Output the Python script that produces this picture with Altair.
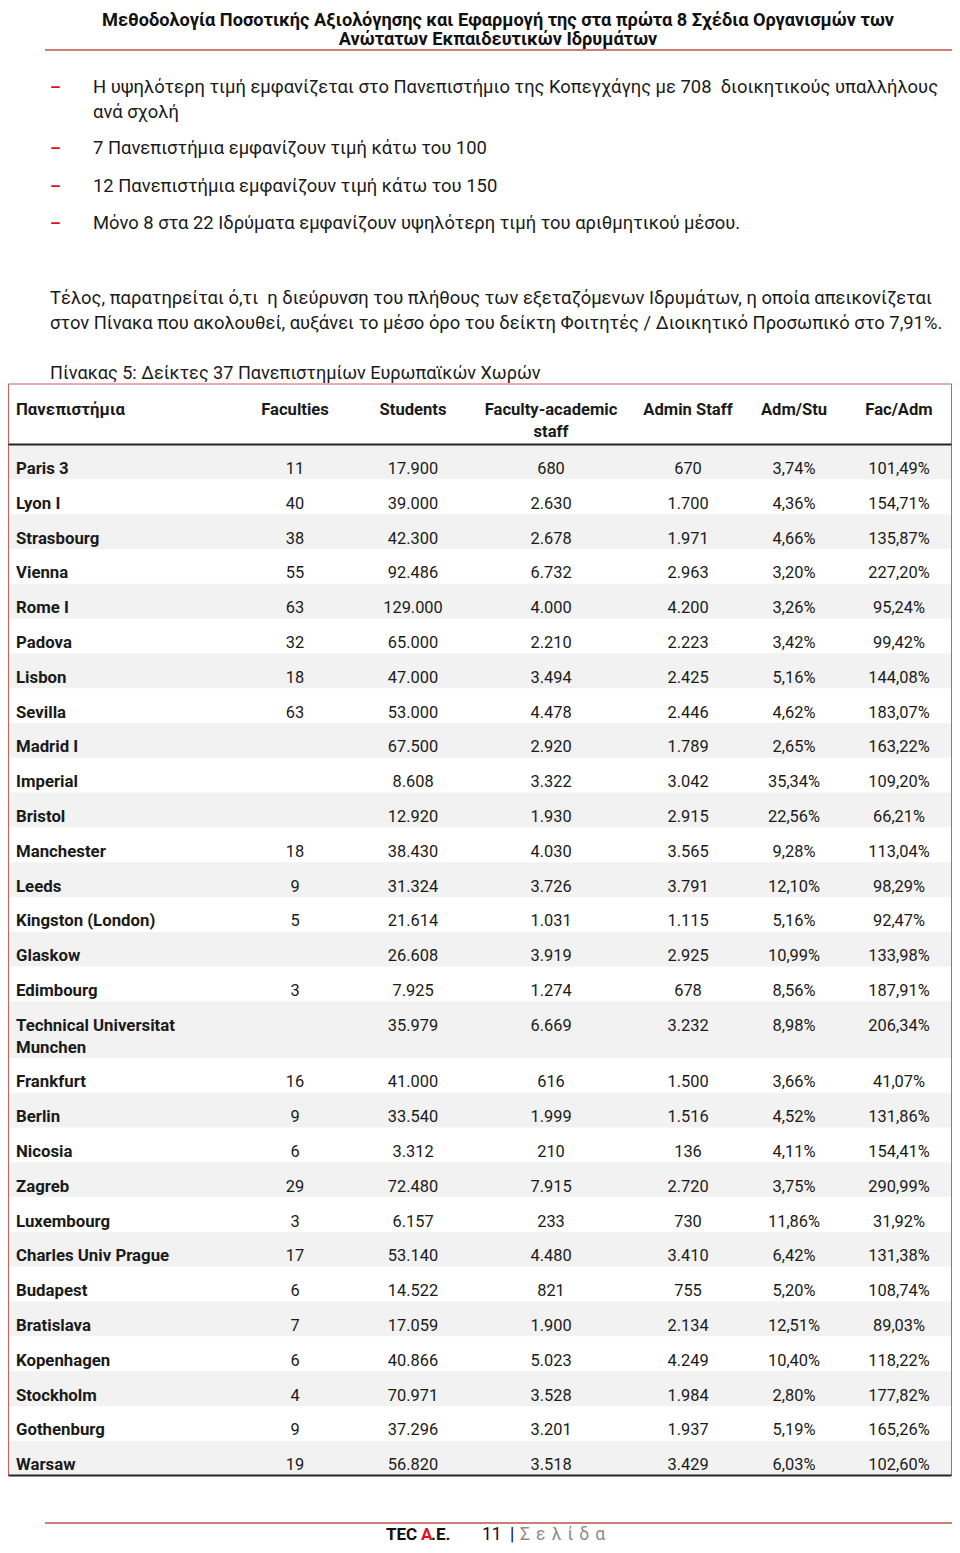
import altair as alt
import pandas as pd

FONT = "Roboto"
TXT = "#1a1a1a"
RED = "#c0504d"

# ---------------- data ----------------
universities = ["Paris 3", "Lyon I", "Strasbourg", "Vienna", "Rome I", "Padova", "Lisbon", "Sevilla",
                "Madrid I", "Imperial", "Bristol", "Manchester", "Leeds", "Kingston (London)", "Glaskow",
                "Edimbourg", "Technical Universitat\nMunchen", "Frankfurt", "Berlin", "Nicosia", "Zagreb",
                "Luxembourg", "Charles Univ Prague", "Budapest", "Bratislava", "Kopenhagen", "Stockholm",
                "Gothenburg", "Warsaw"]
faculties = [11, 40, 38, 55, 63, 32, 18, 63, None, None, None, 18, 9, 5, None, 3, None, 16, 9, 6, 29, 3,
             17, 6, 7, 6, 4, 9, 19]
students = [17900, 39000, 42300, 92486, 129000, 65000, 47000, 53000, 67500, 8608, 12920, 38430, 31324,
            21614, 26608, 7925, 35979, 41000, 33540, 3312, 72480, 6157, 53140, 14522, 17059, 40866, 70971,
            37296, 56820]
faculty_staff = [680, 2630, 2678, 6732, 4000, 2210, 3494, 4478, 2920, 3322, 1930, 4030, 3726, 1031, 3919,
                 1274, 6669, 616, 1999, 210, 7915, 233, 4480, 821, 1900, 5023, 3528, 3201, 3518]
admin_staff = [670, 1700, 1971, 2963, 4200, 2223, 2425, 2446, 1789, 3042, 2915, 3565, 3791, 1115, 2925,
               678, 3232, 1500, 1516, 136, 2720, 730, 3410, 755, 2134, 4249, 1984, 1937, 3429]
adm_stu = [3.74, 4.36, 4.66, 3.20, 3.26, 3.42, 5.16, 4.62, 2.65, 35.34, 22.56, 9.28, 12.10, 5.16, 10.99,
           8.56, 8.98, 3.66, 4.52, 4.11, 3.75, 11.86, 6.42, 5.20, 12.51, 10.40, 2.80, 5.19, 6.03]
fac_adm = [101.49, 154.71, 135.87, 227.20, 95.24, 99.42, 144.08, 183.07, 163.22, 109.20, 66.21, 113.04,
           98.29, 92.47, 133.98, 187.91, 206.34, 41.07, 131.86, 154.41, 290.99, 31.92, 131.38, 108.74,
           89.03, 118.22, 177.82, 165.26, 102.60]
columns = ["Πανεπιστήμια", "Faculties", "Students", "Faculty-academic\nstaff", "Admin Staff", "Adm/Stu",
           "Fac/Adm"]

title_text = ("Μεθοδολογία Ποσοτικής Αξιολόγησης και Εφαρμογή της στα πρώτα 8 Σχέδια Οργανισμών των\n"
              "Ανώτατων Εκπαιδευτικών Ιδρυμάτων")
bullets = ["Η υψηλότερη τιμή εμφανίζεται στο Πανεπιστήμιο της Κοπεγχάγης με 708\u00a0 διοικητικούς υπαλλήλους\nανά σχολή",
           "7 Πανεπιστήμια εμφανίζουν τιμή κάτω του 100",
           "12 Πανεπιστήμια εμφανίζουν τιμή κάτω του 150",
           "Μόνο 8 στα 22 Ιδρύματα εμφανίζουν υψηλότερη τιμή του αριθμητικού μέσου."]
paragraph = ("Τέλος, παρατηρείται ό,τι\u00a0 η διεύρυνση του πλήθους των εξεταζόμενων Ιδρυμάτων, η οποία απεικονίζεται\n"
             "στον Πίνακα που ακολουθεί, αυξάνει το μέσο όρο του δείκτη Φοιτητές / Διοικητικό Προσωπικό στο 7,91%.")
caption = "Πίνακας 5: Δείκτες 37 Πανεπιστημίων Ευρωπαϊκών Χωρών"
page_word = "\u00a0\u200a".join("Σελίδα")


# ---------------- formatting ----------------
def fmt_int(v):
    return "" if v is None else f"{v:,}".replace(",", ".")


def fmt_pct(v):
    return f"{v:.2f}".replace(".", ",") + "%"


# ---------------- table geometry (row units) ----------------
ROW_PX = 34.8
HEADER_H = 1.74
LINE_EXTRA = 0.625
BODY_BASE = 0.845
HEADER_BASE = 0.89

rows = []
cells = []
top = HEADER_H
for i, name in enumerate(universities):
    nlines = name.count("\n") + 1
    h = 1 + (nlines - 1) * LINE_EXTRA
    rows.append({"i": i, "top": top, "bottom": top + h, "shade": i % 2 == 0})
    vals = [name, fmt_int(faculties[i]), fmt_int(students[i]), fmt_int(faculty_staff[i]),
            fmt_int(admin_staff[i]), fmt_pct(adm_stu[i]), fmt_pct(fac_adm[i])]
    for j, v in enumerate(vals):
        cells.append({"row": i, "col": j, "text": v, "base": top + BODY_BASE})
    top += h
TOTAL = top
rows_df = pd.DataFrame(rows)
cells_df = pd.DataFrame(cells)
head_df = pd.DataFrame({"col": list(range(len(columns))), "text": columns, "base": HEADER_BASE})
frame_df = pd.DataFrame({"t": [0.0], "b": [TOTAL]})
lines_df = pd.DataFrame({"y": [HEADER_H, TOTAL]})

Y0 = 376
yscale = alt.Scale(domain=[0, TOTAL], range=[Y0, Y0 + TOTAL * ROW_PX], nice=False, zero=False)
xscale = alt.Scale(domain=list(range(7)), range=[8, 287, 405, 543, 680, 786, 891], nice=False, zero=False)
LEFT, RIGHT = 0.5, 943.5

bg = alt.Chart(rows_df).transform_filter("datum.shade").mark_rect(fill="#f2f2f2").encode(
    y=alt.Y("top:Q", scale=yscale, axis=None), y2="bottom:Q",
    x=alt.value(LEFT), x2=alt.value(RIGHT))

frame = alt.Chart(frame_df).mark_rect(fill=None, stroke="#d45b5e", strokeWidth=1).encode(
    y=alt.Y("t:Q", scale=yscale, axis=None), y2="b:Q", x=alt.value(LEFT), x2=alt.value(RIGHT))

hlines = alt.Chart(lines_df).mark_rule(color="#262626", strokeWidth=2).encode(
    y=alt.Y("y:Q", scale=yscale, axis=None), x=alt.value(LEFT), x2=alt.value(RIGHT))

VSIZE = 16.4
BSIZE = 16.8
LH = LINE_EXTRA * ROW_PX


def table_text(df, cond, align, size, weight):
    return alt.Chart(df).transform_filter(cond).mark_text(
        align=align, baseline="alphabetic", font=FONT, fontSize=size, fontWeight=weight, color=TXT,
        lineBreak="\n", lineHeight=LH).encode(
        x=alt.X("col:Q", scale=xscale, axis=None), y=alt.Y("base:Q", scale=yscale, axis=None),
        text="text:N")


head_left = table_text(head_df, "datum.col == 0", "left", BSIZE, "bold")
head_center = table_text(head_df, "datum.col > 0", "center", 16.6, "bold")
names = table_text(cells_df, "datum.col == 0", "left", BSIZE, "bold")
values = table_text(cells_df, "datum.col > 0", "center", VSIZE, "normal")

# ---------------- page text ----------------
one = pd.DataFrame({"k": [0]})
BODY = 18.4


def txt(s, x, y, size=BODY, weight="normal", color=TXT, align="left", lh=25):
    return alt.Chart(one).mark_text(
        text=s, fontSize=size, fontWeight=weight, color=color, align=align, baseline="alphabetic",
        font=FONT, lineBreak="\n", lineHeight=lh).encode(x=alt.value(x), y=alt.value(y))


def hrule(x1, x2, y, color=RED, w=1.5):
    return alt.Chart(one).mark_rule(color=color, strokeWidth=w).encode(
        x=alt.value(x1), x2=alt.value(x2), y=alt.value(y))


page = [
    txt(title_text, 490, 17.5, size=18.2, weight="bold", color="#111", align="center", lh=19.5),
    hrule(37, 944, 42),
]
bullet_y = [84.5, 145.5, 183.5, 220.5]
for b, by in zip(bullets, bullet_y):
    page.append(txt("–", 42, by, size=17, weight="bold", color="#e0101e"))
    page.append(txt(b, 85, by))
page.append(txt(paragraph, 42, 295.5))
page.append(txt(caption, 42, 370.5, size=18.1))

# footer
FY = 1531.5
page += [
    hrule(37, 944, 1515),
    txt("TEC", 378, FY, size=17, weight="bold", color="#111"),
    txt("A", 413, FY, size=17, weight="bold", color="#e0101e"),
    txt(".E.", 423, FY, size=17, weight="bold", color="#111"),
    txt("11", 474, FY, size=17.5, color="#111"),
    txt("|", 502, FY, size=17.5, color="#111"),
    txt(page_word, 512, FY, size=17.5, color="#8c8c8c"),
]

chart = alt.layer(bg, frame, hlines, head_left, head_center, names, values, *page).properties(
    width=944, height=1537, padding=0, autosize=alt.AutoSizeParams(type="none")
).configure_view(stroke=None)

chart.save("out.html", embed_options={"renderer": "svg", "actions": False})
